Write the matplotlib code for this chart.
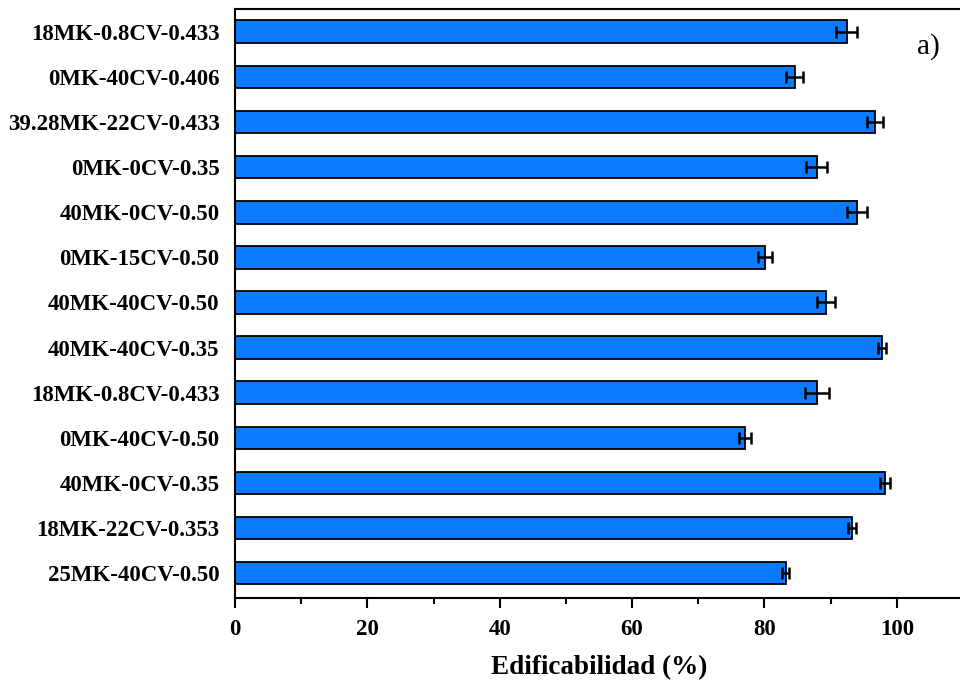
import matplotlib
matplotlib.use('Agg')
import matplotlib.pyplot as plt
from matplotlib.ticker import MultipleLocator

# Mixes, listed bottom to top
mixes = ['25MK-40CV-0.50', '18MK-22CV-0.353', '40MK-0CV-0.35', '0MK-40CV-0.50',
         '18MK-0.8CV-0.433', '40MK-40CV-0.35', '40MK-40CV-0.50', '0MK-15CV-0.50',
         '40MK-0CV-0.50', '0MK-0CV-0.35', '39.28MK-22CV-0.433', '0MK-40CV-0.406',
         '18MK-0.8CV-0.433']
buildability = [83.2, 93.2, 98.2, 77.0, 87.9, 97.7, 89.3, 80.1, 94.0, 87.9, 96.7, 84.6, 92.4]
error = [0.5, 0.6, 0.7, 0.9, 1.8, 0.6, 1.3, 1.0, 1.5, 1.6, 1.2, 1.3, 1.6]

plt.rcParams['font.family'] = ['Liberation Serif', 'DejaVu Serif']

fig = plt.figure(figsize=(9.6, 6.87), dpi=100)
ax = fig.add_axes([0.2448, 0.1296, 0.7583, 0.857])

pos = list(range(len(mixes)))
ax.barh(pos, buildability, height=0.5, color='#0a7bff', edgecolor='black',
        linewidth=1.3, xerr=error,
        error_kw=dict(ecolor='black', elinewidth=1.8, capsize=4, capthick=1.8))

ax.set_xlim(0, 110)
ax.set_ylim(-0.55, 12.5)
ax.set_yticks(pos)
ax.set_yticklabels(mixes, fontsize=16.5, fontweight='bold')
ax.tick_params(axis='y', length=0, pad=11)
ax.xaxis.set_major_locator(MultipleLocator(20))
ax.xaxis.set_minor_locator(MultipleLocator(10))
ax.tick_params(axis='x', which='major', length=7, width=1.5, labelsize=16.5, pad=8)
ax.tick_params(axis='x', which='minor', length=4, width=1.5)
for t in ax.get_xticklabels():
    t.set_fontweight('bold')
for s in ax.spines.values():
    s.set_linewidth(1.5)

ax.set_xlabel('Edificabilidad (%)', fontsize=19.5, fontweight='bold', labelpad=11)
ax.text(103, 11.68, 'a)', fontsize=21, ha='left', va='center')

fig.savefig('out.png', dpi=100)
